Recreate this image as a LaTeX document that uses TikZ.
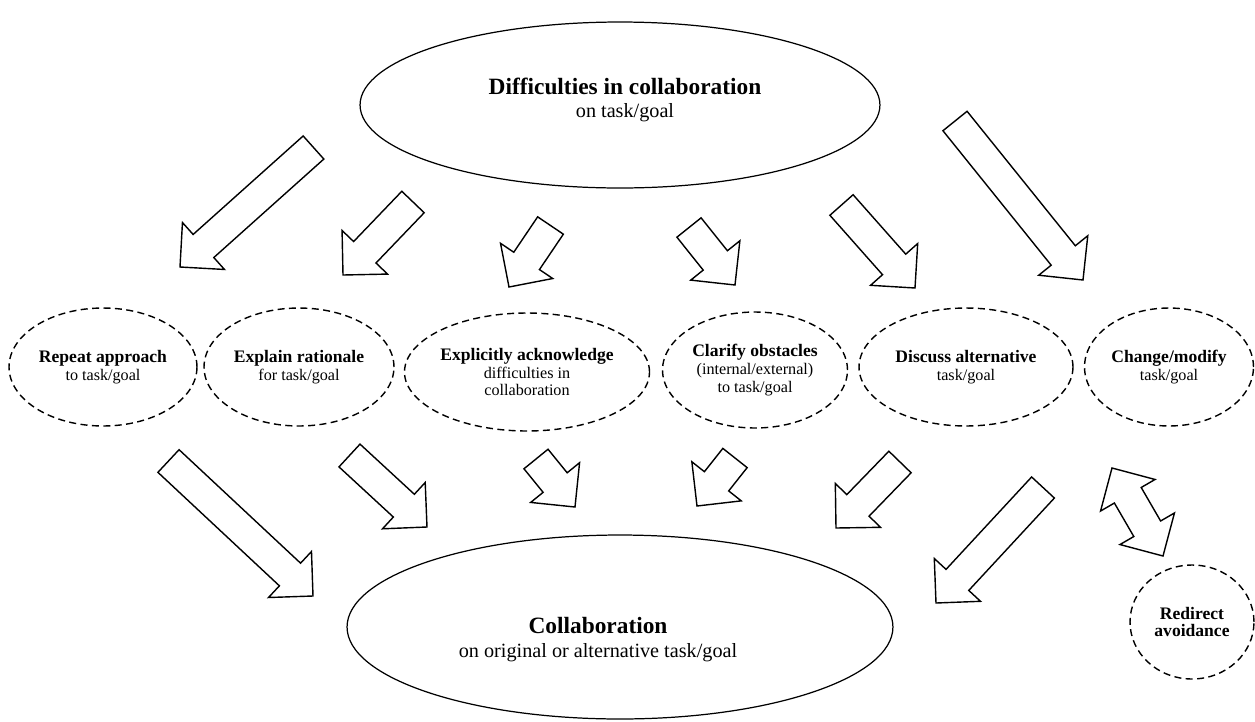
\documentclass[tikz,border=0pt]{standalone}
\usepackage{fontspec}
\setmainfont{Liberation Serif}
\usepackage{tikz}
\usetikzlibrary{shapes,calc}

\newcommand{\hd}[1]{{\fontsize{10}{10.2}\selectfont\bfseries #1}}
\newcommand{\bighd}[1]{{\fontsize{13.3}{13.6}\selectfont\bfseries #1}}

\tikzset{
  bigoval/.style={draw, ellipse, line width=0.7pt, inner sep=0pt},
  dashoval/.style={draw, ellipse, dash pattern=on 4pt off 2.5pt, line width=0.8pt, inner sep=0pt, align=center, font=\fontsize{9.2}{10.2}\selectfont},
  bigtxt/.style={align=center, font=\fontsize{11.5}{13.6}\selectfont},
  fatarrow/.style={draw, line width=0.8pt, to path={
    ($(\tikztostart)!0.31cm!90:(\tikztotarget)$)
    -- ($(\tikztotarget)!0.63cm!(\tikztostart)!0.31cm!90:(\tikztotarget)$)
    -- ($(\tikztotarget)!0.63cm!(\tikztostart)!0.63cm!90:(\tikztotarget)$)
    -- (\tikztotarget)
    -- ($(\tikztotarget)!0.63cm!(\tikztostart)!0.63cm!-90:(\tikztotarget)$)
    -- ($(\tikztotarget)!0.63cm!(\tikztostart)!0.31cm!-90:(\tikztotarget)$)
    -- ($(\tikztostart)!0.31cm!-90:(\tikztotarget)$) -- cycle}},
  fatboth/.style={draw, line width=0.8pt, to path={
    (\tikztostart)
    -- ($(\tikztostart)!0.63cm!(\tikztotarget)!0.63cm!90:(\tikztotarget)$)
    -- ($(\tikztostart)!0.63cm!(\tikztotarget)!0.31cm!90:(\tikztotarget)$)
    -- ($(\tikztotarget)!0.63cm!(\tikztostart)!0.31cm!-90:(\tikztostart)$)
    -- ($(\tikztotarget)!0.63cm!(\tikztostart)!0.63cm!-90:(\tikztostart)$)
    -- (\tikztotarget)
    -- ($(\tikztotarget)!0.63cm!(\tikztostart)!0.63cm!90:(\tikztostart)$)
    -- ($(\tikztotarget)!0.63cm!(\tikztostart)!0.31cm!90:(\tikztostart)$)
    -- ($(\tikztostart)!0.63cm!(\tikztotarget)!0.31cm!-90:(\tikztotarget)$)
    -- ($(\tikztostart)!0.63cm!(\tikztotarget)!0.63cm!-90:(\tikztotarget)$)
    -- cycle}}
}

\begin{document}
\begin{tikzpicture}[x=0.02cm, y=-0.02cm]
\useasboundingbox (0,0) rectangle (1255,721);

\node[bigoval, minimum width=10.4cm, minimum height=3.32cm,
  label={[bigtxt, xshift=0.1cm, yshift=0.1cm]center:{\bighd{Difficulties in collaboration}\\on task/goal}}] (diff) at (620,105) {};
\node[bigoval, minimum width=10.92cm, minimum height=3.68cm,
  label={[bigtxt, xshift=-0.44cm, yshift=-0.26cm]center:{\bighd{Collaboration}\\on original or alternative task/goal}}] (collab) at (620,627) {};

\node[dashoval, minimum width=3.76cm, minimum height=2.36cm] (repeat) at (103,367) {\hd{Repeat approach}\\to task/goal};
\node[dashoval, minimum width=3.8cm, minimum height=2.36cm] (explain) at (299,367) {\hd{Explain rationale}\\for task/goal};
\node[dashoval, minimum width=4.84cm, minimum height=2.36cm] (ack) at (527,372) {\hd{Explicitly acknowledge}\\difficulties in\\collaboration};
\node[dashoval, minimum width=3.7cm, minimum height=2.32cm] (clarify) at (755,370) {\hd{Clarify obstacles}\\(internal/external)\\to task/goal};
\node[dashoval, minimum width=4.28cm, minimum height=2.36cm] (discuss) at (966,367) {\hd{Discuss alternative}\\task/goal};
\node[dashoval, minimum width=3.38cm, minimum height=2.36cm] (change) at (1169,367) {\hd{Change/modify}\\task/goal};
\node[dashoval, minimum width=2.48cm, minimum height=2.28cm] (redirect) at (1192,622) {\hd{Redirect}\\\hd{avoidance}};

\coordinate (a1t) at (313.5,147.5); \coordinate (a1h) at (180,267);
\coordinate (a2t) at (413,202);     \coordinate (a2h) at (343,275);
\coordinate (a3t) at (550.5,225.5); \coordinate (a3h) at (509,287);
\coordinate (a4t) at (689,227.5);   \coordinate (a4h) at (735,285);
\coordinate (a5t) at (841.5,205);   \coordinate (a5h) at (915,288);
\coordinate (a6t) at (955,121);     \coordinate (a6h) at (1083,280);
\coordinate (b1t) at (168.5,461);   \coordinate (b1h) at (313,596);
\coordinate (b2t) at (349.5,455.5); \coordinate (b2h) at (427,527);
\coordinate (b3t) at (536,459);     \coordinate (b3h) at (575,507);
\coordinate (b4t) at (735,458);     \coordinate (b4h) at (697,506);
\coordinate (b5t) at (900,462);     \coordinate (b5h) at (836,528);
\coordinate (b6t) at (1043,487.5);  \coordinate (b6h) at (936,603);
\coordinate (d1) at (1112,468);     \coordinate (d2) at (1163,556);

\draw[fatarrow] (a1t) to (a1h);
\draw[fatarrow] (a2t) to (a2h);
\draw[fatarrow] (a3t) to (a3h);
\draw[fatarrow] (a4t) to (a4h);
\draw[fatarrow] (a5t) to (a5h);
\draw[fatarrow] (a6t) to (a6h);
\draw[fatarrow] (b1t) to (b1h);
\draw[fatarrow] (b2t) to (b2h);
\draw[fatarrow] (b3t) to (b3h);
\draw[fatarrow] (b4t) to (b4h);
\draw[fatarrow] (b5t) to (b5h);
\draw[fatarrow] (b6t) to (b6h);
\draw[fatboth] (d1) to (d2);
\end{tikzpicture}
\end{document}
